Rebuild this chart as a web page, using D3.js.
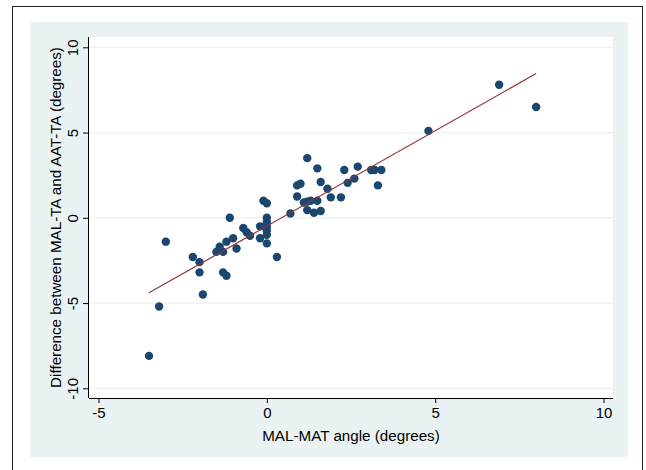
<!DOCTYPE html>
<html>
<head>
<meta charset="utf-8">
<script src="https://cdn.jsdelivr.net/npm/d3@7"></script>
<style>
  body { margin: 0; background: #ffffff; }
  text { font-family: "Liberation Sans", Arial, Helvetica, sans-serif; fill: #000; }
</style>
</head>
<body>
<div id="graph-pane"></div>
<script>
// Data
const malMat = [-3.5, -3.2, -3.0, -2.2, -2.0, -2.0, -1.9, -1.5, -1.4, -1.3, -1.3, -1.2, -1.2, -1.1, -1.0, -0.9,
  -0.7, -0.6, -0.5, -0.2, -0.2, -0.1, 0.0, 0.0, 0.0, 0.0, 0.0, 0.0, 0.0, 0.3, 0.7, 0.9, 0.9, 1.0, 1.2, 1.5,
  1.6, 1.1, 1.2, 1.3, 1.5, 1.2, 1.4, 1.6, 1.8, 1.9, 2.2, 2.3, 2.4, 2.6, 2.7, 3.1, 3.2, 3.4, 3.3, 4.8, 6.9, 8.0];
const diffTa = [-8.1, -5.2, -1.4, -2.3, -2.6, -3.2, -4.5, -2.0, -1.7, -2.0, -3.2, -3.4, -1.4, 0.0, -1.2, -1.8,
  -0.6, -0.85, -1.05, -0.5, -1.2, 1.0, 0.85, 0.0, -0.25, -0.5, -0.75, -1.0, -1.5, -2.3, 0.25, 1.25, 1.9, 2.0, 3.5, 2.9,
  2.1, 0.9, 0.95, 1.0, 1.0, 0.45, 0.3, 0.4, 1.7, 1.2, 1.2, 2.8, 2.05, 2.3, 3.0, 2.8, 2.8, 2.8, 1.9, 5.1, 7.8, 6.5];
// fitted line end points
const fitX = [-3.5, 8.0];
const fitY = [-4.4, 8.46];
const xTicks = [-5, 0, 5, 10];
const yTicks = [-10, -5, 0, 5, 10];

const W = 646, H = 470;
const plot = {left: 89, right: 613, top: 37, bottom: 398};

var svg = d3.select("#graph-pane")
  .append("svg")
    .attr("width", W)
    .attr("height", H)
    .attr("id", "graph");

// outer frame and graph region
svg.append("rect")
  .attr("x", 12.5).attr("y", 6.5)
  .attr("width", 630).attr("height", 520)
  .attr("fill", "#ffffff")
  .attr("stroke", "#222").attr("stroke-width", 1);
svg.append("rect")
  .attr("x", 30).attr("y", 22)
  .attr("width", 598).attr("height", 435)
  .attr("fill", "#eaf2f3");
svg.append("rect")
  .attr("x", plot.left).attr("y", plot.top)
  .attr("width", plot.right - plot.left).attr("height", plot.bottom - plot.top)
  .attr("fill", "#ffffff");

// scales
var x = d3.scaleLinear()
  .domain([-5, 10])
  .range([98.5, 603.5]);
var y = d3.scaleLinear()
  .domain([-10, 10])
  .range([388.3, 47.3]);

// gridlines
svg.append("g")
  .selectAll("line")
  .data(yTicks)
  .enter()
  .append("line")
    .attr("x1", plot.left).attr("x2", plot.right)
    .attr("y1", d => y(d)).attr("y2", d => y(d))
    .attr("stroke", "#eaf2f3").attr("stroke-width", 1.2);

// X axis
var xAxis = svg.append("g")
  .attr("transform", "translate(0," + plot.bottom + ")")
  .call(d3.axisBottom(x).tickValues(xTicks).tickSize(5).tickPadding(4).tickFormat(d3.format("d")));
xAxis.select(".domain").attr("d", "M" + plot.left + ",0.5H" + plot.right).attr("stroke", "#000");
xAxis.selectAll(".tick line").attr("stroke", "#000");
xAxis.selectAll(".tick text").attr("font-size", 15).attr("fill", "#000")
  .text(d => d < 0 ? "-" + Math.abs(d) : d);

// Y axis
var yAxis = svg.append("g")
  .attr("transform", "translate(" + plot.left + ",0)")
  .call(d3.axisLeft(y).tickValues(yTicks).tickSize(6).tickFormat(d3.format("d")));
yAxis.select(".domain").attr("d", "M-0.5," + plot.top + "V" + plot.bottom).attr("stroke", "#000");
yAxis.selectAll(".tick line").attr("stroke", "#000");
yAxis.selectAll(".tick text")
  .attr("font-size", 15).attr("fill", "#000")
  .attr("x", null).attr("dy", null)
  .attr("text-anchor", "middle")
  .attr("transform", "translate(-11,0) rotate(-90)")
  .text(d => d < 0 ? "-" + Math.abs(d) : d);

// axis titles
svg.append("text")
  .attr("x", (plot.left + plot.right) / 2)
  .attr("y", 441)
  .attr("text-anchor", "middle")
  .attr("font-size", 15.2)
  .text("MAL-MAT angle (degrees)");
svg.append("text")
  .attr("transform", "translate(61," + (plot.top + plot.bottom) / 2 + ") rotate(-90)")
  .attr("text-anchor", "middle")
  .attr("font-size", 15.2)
  .text("Difference between MAL-TA and AAT-TA (degrees)");

// scatter points
svg.append("g")
  .selectAll("circle")
  .data(malMat)
  .enter()
  .append("circle")
    .attr("cx", d => x(d))
    .attr("cy", (d, i) => y(diffTa[i]))
    .attr("r", 4.2)
    .style("fill", "#1a476f");

// fitted line
svg.append("line")
  .attr("x1", x(fitX[0])).attr("y1", y(fitY[0]))
  .attr("x2", x(fitX[1])).attr("y2", y(fitY[1]))
  .attr("stroke", "#90353b").attr("stroke-width", 1.2);
</script>
</body>
</html>
